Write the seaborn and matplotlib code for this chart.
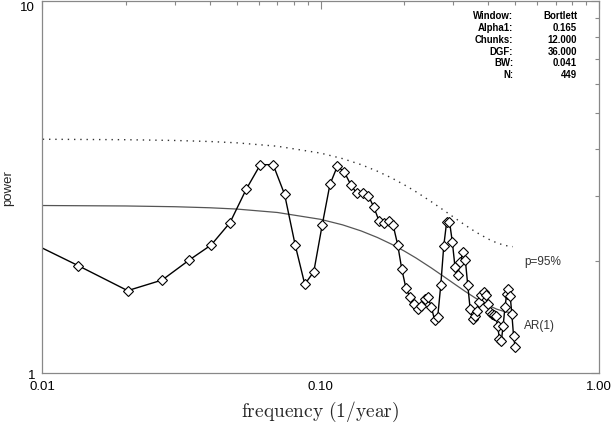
import matplotlib
matplotlib.use("Agg")
import matplotlib.pyplot as plt
import seaborn as sns
from matplotlib.ticker import FixedLocator, FixedFormatter, NullFormatter, LogLocator

# ---- data ----
freq = [0.0068, 0.0135, 0.0203, 0.0270, 0.0338, 0.0405, 0.0473, 0.0541, 0.0608, 0.0676,
        0.0743, 0.0811, 0.0878, 0.0946, 0.1014, 0.1081, 0.1149, 0.1216, 0.1284, 0.1351,
        0.1419, 0.1486, 0.1554, 0.1622, 0.1689, 0.1757, 0.1824, 0.1892, 0.1959, 0.2027,
        0.2095, 0.2162, 0.2230, 0.2297, 0.2365, 0.2432, 0.2500, 0.2568, 0.2635, 0.2703,
        0.2770, 0.2838, 0.2905, 0.2973, 0.3041, 0.3108, 0.3176, 0.3243, 0.3311, 0.3378,
        0.3446, 0.3514, 0.3581, 0.3649, 0.3716, 0.3784, 0.3851, 0.3919, 0.3986, 0.4054,
        0.4122, 0.4189, 0.4257, 0.4324, 0.4392, 0.4459, 0.4527, 0.4595, 0.4662, 0.4730,
        0.4797, 0.4865, 0.4932, 0.5000]
power = [2.499, 1.943, 1.665, 1.778, 2.013, 2.209, 2.535, 3.118, 3.631, 3.631,
         3.023, 2.209, 1.732, 1.872, 2.499, 3.212, 3.594, 3.476, 3.208, 3.038,
         3.038, 2.997, 2.789, 2.567, 2.531, 2.562, 2.492, 2.215, 1.898, 1.690,
         1.598, 1.533, 1.486, 1.514, 1.581, 1.598, 1.504, 1.388, 1.414, 1.724,
         2.194, 2.551, 2.554, 2.254, 1.924, 1.837, 1.984, 2.111, 2.013, 1.724,
         1.486, 1.397, 1.426, 1.471, 1.552, 1.621, 1.648, 1.621, 1.533, 1.456,
         1.440, 1.432, 1.423, 1.340, 1.234, 1.221, 1.340, 1.504, 1.631, 1.682,
         1.611, 1.440, 1.260, 1.172]

ar_freq = [0.0068, 0.01, 0.02, 0.03, 0.04, 0.05, 0.07, 0.10, 0.12, 0.14, 0.16, 0.18,
           0.20, 0.22, 0.25, 0.28, 0.30, 0.33, 0.36, 0.40, 0.43, 0.46, 0.49]
ar_power = [2.821, 2.820, 2.812, 2.799, 2.781, 2.759, 2.701, 2.589, 2.502, 2.409, 2.314,
            2.219, 2.127, 2.039, 1.916, 1.807, 1.743, 1.659, 1.590, 1.521, 1.484, 1.461, 1.451]
sig_power = [4.252, 4.250, 4.238, 4.218, 4.191, 4.157, 4.070, 3.901, 3.770, 3.631, 3.487,
             3.345, 3.205, 3.072, 2.887, 2.723, 2.626, 2.500, 2.396, 2.292, 2.237, 2.202, 2.186]

info_labels = ["Window:", "Alpha1:", "Chunks:", "DGF:", "BW:", "N:"]
info_values = ["Bortlett", "0.165", "12.000", "36.000", "0.041", "449"]

x_major = [0.01, 0.1, 1.0]
x_major_labels = ["0.01", "0.10", "1.00"]
y_major = [1, 10]
y_major_labels = ["1", "10"]

# ---- styling ----
sns.set_theme(style="white")
plt.rcParams["font.family"] = ["Liberation Sans", "DejaVu Sans"]
plt.rcParams["mathtext.fontset"] = "cm"

fig = plt.figure(figsize=(6.14, 4.27), dpi=100)
ax = fig.add_axes([0.0684, 0.1241, 0.9072, 0.8712])
ax.set_xscale("log")
ax.set_yscale("log")

sns.lineplot(x=ar_freq, y=sig_power, ax=ax, color="#333333", linewidth=1.0,
             linestyle=(0, (1, 3.5)), sort=False, estimator=None)
sns.lineplot(x=ar_freq, y=ar_power, ax=ax, color="#555555", linewidth=0.9,
             sort=False, estimator=None)
sns.lineplot(x=freq, y=power, ax=ax, color="black", linewidth=1.0, marker="D",
             markersize=5.2, markerfacecolor="white", markeredgecolor="black",
             markeredgewidth=0.8, sort=False, estimator=None)

ax.set_xlim(0.01, 1.0)
ax.set_ylim(1, 10)

ax.xaxis.set_major_locator(FixedLocator(x_major))
ax.xaxis.set_major_formatter(FixedFormatter(x_major_labels))
ax.yaxis.set_major_locator(FixedLocator(y_major))
ax.yaxis.set_major_formatter(FixedFormatter(y_major_labels))
ax.xaxis.set_minor_locator(LogLocator(base=10, subs=[2, 3, 4, 5, 6, 7, 8, 9]))
ax.yaxis.set_minor_locator(LogLocator(base=10, subs=[2, 3, 4, 5, 6, 7, 8, 9]))
ax.xaxis.set_minor_formatter(NullFormatter())
ax.yaxis.set_minor_formatter(NullFormatter())

for side in ["left", "right", "top", "bottom"]:
    ax.spines[side].set_color("#888888")
    ax.spines[side].set_linewidth(0.9)

ax.tick_params(which="both", direction="in", top=True, right=True,
               color="#888888", width=0.8, labelsize=9.5, labelcolor="black")
ax.tick_params(which="major", length=5.5, pad=5)
ax.tick_params(which="minor", length=3)

# the "10" label sits just below the top edge, as in the reference
ytk = ax.yaxis.get_major_ticks()
ytk[-1].label1.set_verticalalignment("top")

ax.set_xlabel(r"$\mathrm{frequency\ (1/year)}$", fontsize=14, labelpad=5)
ax.set_ylabel("power", fontsize=9.5, labelpad=4)

ax.text(0.865, 0.301, "p=95%", transform=ax.transAxes, fontsize=8.5,
        color="#333333", ha="left", va="center")
ax.text(0.865, 0.129, "AR(1)", transform=ax.transAxes, fontsize=8.5,
        color="#333333", ha="left", va="center")

row_y = [0.962, 0.931, 0.898, 0.866, 0.836, 0.804]
for lab, val, yy in zip(info_labels, info_values, row_y):
    ax.text(0.8456, yy, lab, transform=ax.transAxes, fontsize=6.9,
            fontweight="bold", ha="right", va="center", color="black")
    ax.text(0.9605, yy, val, transform=ax.transAxes, fontsize=6.9,
            fontweight="bold", ha="right", va="center", color="black")

fig.savefig("out.png", dpi=100)
